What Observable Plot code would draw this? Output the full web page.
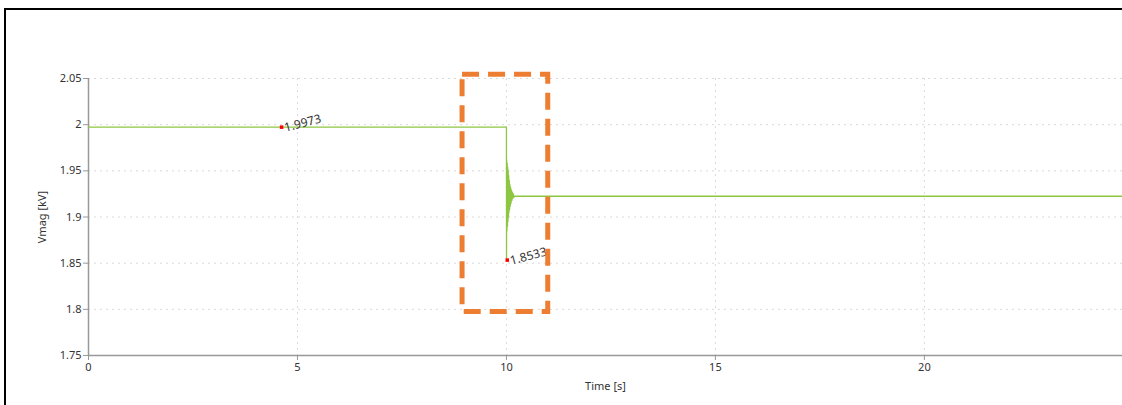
<!DOCTYPE html>
<html><head><meta charset="utf-8">
<script src="https://cdn.jsdelivr.net/npm/d3@7"></script>
<script src="https://cdn.jsdelivr.net/npm/@observablehq/plot@0.6"></script>
<style>
body{margin:0;background:#fff;overflow:hidden;}
#frame{position:absolute;left:4px;top:8px;width:1300px;height:500px;border-left:2px solid #000;border-top:2px solid #000;}
#chart{position:absolute;left:0;top:0;}
</style>
</head><body>
<div id="frame"></div>
<div id="chart"></div>
<script>
// Series: Vmag [kV] vs Time [s]
const time = [0, 10.0, 10.002, 10.006, 10.012, 10.018, 10.024, 10.030, 10.036, 10.042, 10.048, 10.054, 10.060, 10.068, 10.076, 10.084, 10.092, 10.100, 10.110, 10.120, 10.130, 10.140, 10.150, 10.165, 10.180, 10.200, 24.74];
const vmag = [1.9973, 1.9973, 1.8533, 1.962, 1.885, 1.958, 1.890, 1.954, 1.895, 1.950, 1.900, 1.945, 1.905, 1.940, 1.908, 1.935, 1.912, 1.932, 1.915, 1.929, 1.918, 1.927, 1.920, 1.925, 1.9215, 1.9225, 1.9225];
// Annotated markers
const markTime = [4.62, 10.02];
const markValue = [1.9973, 1.8533];
const markLabel = ["1.9973", "1.8533"];
// Highlight box (data coordinates)
const boxT = [8.95, 11.0];
const boxV = [1.797, 2.054];
// Ticks
const xTicks = [0, 5, 10, 15, 20];
const yTicks = [1.75, 1.8, 1.85, 1.9, 1.95, 2, 2.05];

const series = time.map((t, i) => ({t, v: vmag[i]}));
const marks = markTime.map((t, i) => ({t, v: markValue[i], label: markLabel[i]}));
const box = [{x1: boxT[0], x2: boxT[1], y1: boxV[0], y2: boxV[1]}];

const chart = Plot.plot({
  width: 1122, height: 405,
  marginLeft: 88, marginRight: 0, marginTop: 78, marginBottom: 50,
  style: {fontFamily: "'Noto Sans', sans-serif", fontSize: "11px", color: "#333", background: "transparent"},
  x: {domain: [0, 24.74]},
  y: {domain: [1.75, 2.05]},
  marks: [
    Plot.gridY(yTicks.filter(d => d > 1.75), {stroke: "#dadada", strokeOpacity: 1, strokeDasharray: "2,4"}),
    Plot.gridX(xTicks.filter(d => d > 0), {stroke: "#dadada", strokeOpacity: 1, strokeDasharray: "2,4"}),
    Plot.axisY(yTicks, {tickSize: 5, stroke: "#999", tickFormat: d => String(d), tickPadding: 2,
      label: "Vmag [kV]", labelAnchor: "center", labelArrow: "none", labelOffset: 50, fill: "#333"}),
    Plot.axisX(xTicks, {tickSize: 5, stroke: "#999", tickFormat: d => String(d), tickPadding: 3,
      label: "Time [s]", labelAnchor: "center", labelArrow: "none", labelOffset: 34, fill: "#333"}),
    Plot.ruleX([0], {stroke: "#999", strokeWidth: 1.5}),
    Plot.ruleY([1.75], {stroke: "#999", strokeWidth: 1.5}),
    Plot.line(series, {x: "t", y: "v", stroke: "#8DC641", strokeWidth: 1.3}),
    Plot.dot(marks, {x: "t", y: "v", symbol: "square", r: 2, fill: "#ff0000", stroke: "none"}),
    Plot.text(marks, {x: "t", y: "v", text: "label", rotate: -15, textAnchor: "start", dx: 3, dy: 1, fontSize: 12, fill: "#333"}),
    Plot.rect(box, {x1: "x1", x2: "x2", y1: "y1", y2: "y2", fill: "none", stroke: "#ED7D31", strokeWidth: 5, strokeDasharray: "17,9"})
  ]
});
document.getElementById("chart").appendChild(chart);
</script>
</body></html>
